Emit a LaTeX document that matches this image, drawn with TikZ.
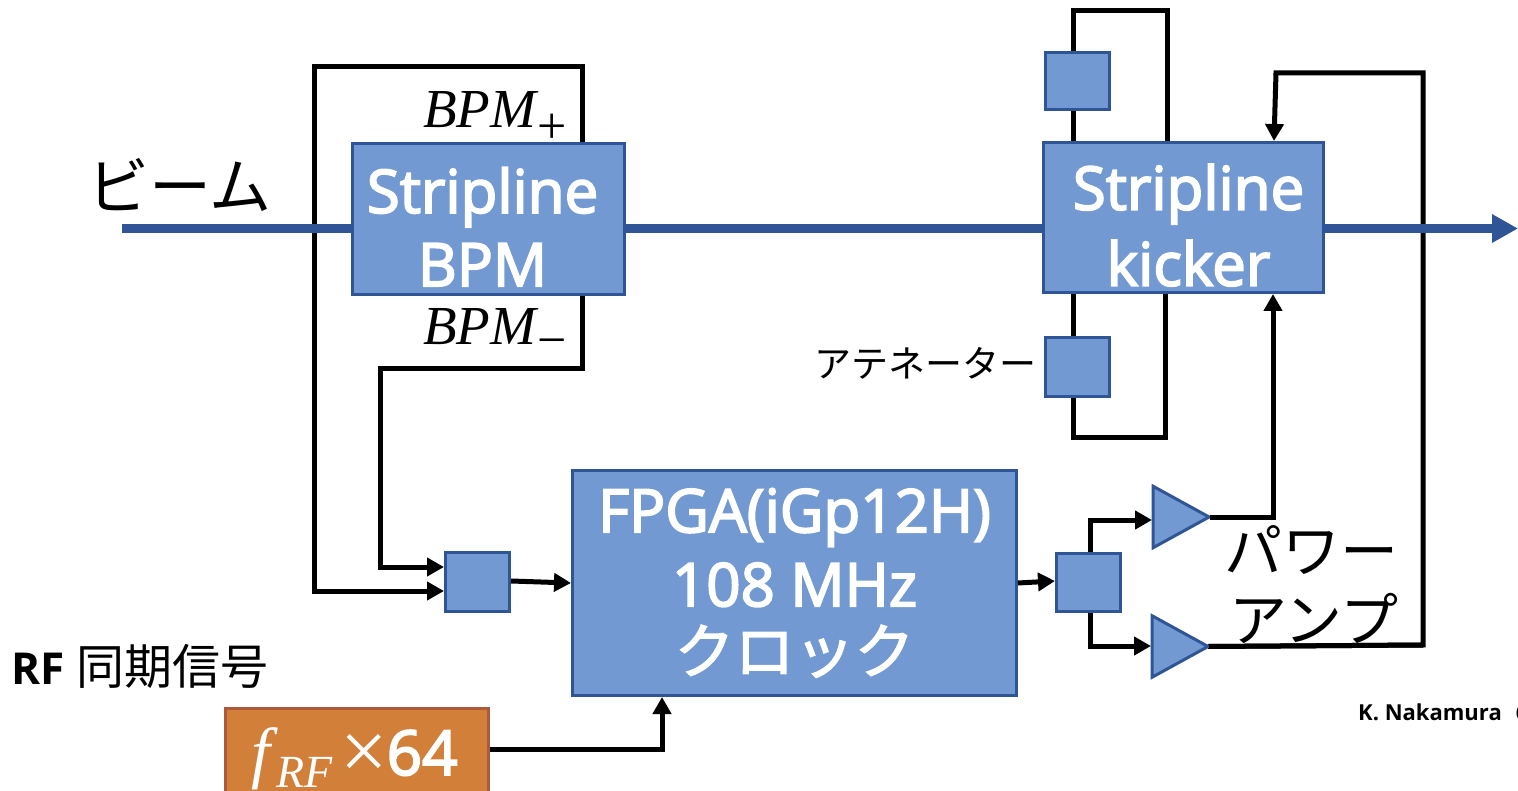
\documentclass[tikz,border=0pt]{standalone}
\usepackage{fontspec}
\setmainfont{Open Sans}
\newfontfamily\semif[FakeBold=3]{Open Sans}
\newfontfamily\cjk{Noto Sans CJK JP}
\newfontfamily\cjksemi[FakeBold=2]{Noto Sans CJK JP}
\newfontfamily\mathf{Liberation Serif}
\usetikzlibrary{shapes.geometric,arrows.meta,calc}
\newcommand{\fs}[1]{\fontsize{#1}{#1}\selectfont}
\definecolor{boxfill}{HTML}{7299D1}
\definecolor{boxline}{HTML}{2F5597}
\definecolor{orfill}{HTML}{D27F3A}
\definecolor{orline}{HTML}{AE5A3A}
\tikzset{
  bluebox/.style={draw=boxline,line width=3pt,fill=boxfill,inner sep=0pt,text=white,font=\semif,align=center},
  amp/.style={isosceles triangle,isosceles triangle stretches,draw=boxline,line width=3pt,fill=boxfill,inner sep=0pt,minimum width=61.5pt,minimum height=56pt,shape border rotate=0},
  wire/.style={black,line width=5pt,line join=miter},
  arrowwire/.style={wire,-{Triangle[length=17pt,width=18pt]}},
  beam/.style={boxline,line width=9pt,-{Triangle[length=26pt,width=27pt]}},
  lab/.style={inner sep=0pt,text=black}
}
\begin{document}
\begin{tikzpicture}[x=1pt,y=-1pt]
\useasboundingbox (0,0) rectangle (1518,791);
\clip (0,0) rectangle (1518,791);
% corner coordinates
\coordinate (bpTop) at (582,67);
\coordinate (bpLeft) at (314,67);
\coordinate (bpBot) at (582,369);
\coordinate (bpIn) at (380,369);
\coordinate (kTopL) at (1073,10.5);
\coordinate (kTopR) at (1167,10.5);
\coordinate (kBotL) at (1073,437);
\coordinate (kBotR) at (1165,437);
\coordinate (fbTR) at (1423,73);
\coordinate (fbBR) at (1423,645);
\coordinate (fbTL) at (1276,73);
\coordinate (beamStart) at (122,228.5);
\coordinate (beamEnd) at (1518,228.5);
\coordinate (rfCorner) at (662,749);
% wires behind boxes
\draw[wire] (582,143) -- (bpTop) -- (bpLeft) -- (314,593.5);
\draw[wire] (1208,646.5) -- (fbBR) -- (fbTR) -- (1273.5,73);
\draw[beam] (beamStart) -- (beamEnd);
% nodes
\node[bluebox,minimum width=272pt,minimum height=151pt] (bpm) at (488.5,219) {\fs{60}\rule{0pt}{61pt}Stripline\kern12pt\\[15pt]\fs{60}BPM\kern12pt};
\node[bluebox,minimum width=280pt,minimum height=150pt] (kick) at (1183.5,217.5) {\fs{60}\rule{0pt}{61pt}\kern10pt Stripline\\[15pt]\fs{60}\kern10pt kicker};
\node[bluebox,minimum width=64pt,minimum height=57pt] (att1) at (1077.5,81) {};
\node[bluebox,minimum width=64pt,minimum height=59pt] (att2) at (1077.5,367) {};
\node[bluebox,minimum width=64pt,minimum height=59pt] (mix) at (477.5,582) {};
\node[bluebox,minimum width=444pt,minimum height=225pt] (fpga) at (794.5,583) {\fs{60}FPGA(iGp12H)\\[15pt]\fs{60}108 MHz\\[17pt]{\cjksemi\fs{60}クロック}};
\node[bluebox,minimum width=64pt,minimum height=58pt] (split) at (1088.5,582.5) {};
\node[amp,anchor=apex] (ampA) at (1213,517) {};
\node[amp,anchor=apex] (ampB) at (1212,646.5) {};
\node[draw=orline,line width=3pt,fill=orfill,inner sep=0pt,minimum width=263pt,minimum height=100pt] (rf) at (357,758) {};
\node[inner sep=0pt,text=white,anchor=base west] (rflab) at (251,775) {\mathf\fs{68}\itshape f\kern6pt\raisebox{-12pt}{\fs{46}RF}\kern8pt\upshape\fs{84}\raisebox{-4pt}{×}\kern-1pt{\semif\fs{62}64}};
% wires between nodes
\draw[wire] (bpm.south -| bpBot) -- (bpBot) -- (bpIn) -- (380,569.5);
\draw[arrowwire] (380,567) -- (mix.west |- 0,567);
\draw[arrowwire] (314,591) -- (mix.west |- 0,591);
\draw[wire] (att1.north -| kTopL) -- (kTopL) -- (kTopR) -- (kick.north -| kTopR);
\draw[wire] (att1.south -| kTopL) -- (kick.north -| kTopL);
\draw[wire] (kick.south -| kBotL) -- (att2.north -| kBotL);
\draw[wire] (att2.south -| kBotL) -- (kBotL) -- (kBotR) -- (kick.south -| kBotR);
\draw[arrowwire] (mix.east |- 0,581) -- (fpga.west |- 0,583);
\draw[arrowwire] (fpga.east |- 0,583) -- (split.west |- 0,581);
\draw[arrowwire] (split.north -| 1090,0) |- (1152,520);
\draw[arrowwire] (split.south -| 1090,0) |- (1151,646);
\draw[arrowwire] ($(ampA.apex)+(-3,0)$) -| (kick.south -| 1273,0);
\draw[wire] ($(ampB.apex)+(-3,0)$) -- (fbBR);
\draw[arrowwire] (fbTL) -- (kick.north -| 1274,0);
\draw[arrowwire] (rf.east |- rfCorner) -- (rfCorner) -- (fpga.south -| rfCorner);
% labels
\node[lab,anchor=base west] (bp) at (423,128) {\mathf\fs{55}\itshape BPM\kern1pt\raisebox{-16pt}{\upshape\fs{52}+}};
\node[lab,anchor=base west] (bm) at (423,345) {\mathf\fs{55}\itshape BPM\kern1pt\raisebox{-13pt}{\upshape\fs{52}−}};
\node[lab,anchor=west] (beamlab) at (87,185) {\cjk\fs{62}ビーム};
\node[lab,anchor=base west] (sync) at (11,684) {\fs{44}\bfseries RF\kern12pt{\cjk\mdseries\fs{48}同期信号}};
\node[lab,anchor=east] (attlab) at (1037,363) {\cjk\fs{37}アテネーター};
\node[lab,anchor=center] (pa1) at (1311,550) {\cjk\fs{58}パワー};
\node[lab,anchor=center] (pa2) at (1314,618) {\cjk\fs{58}アンプ};
\node[lab,anchor=base west] (auth) at (1358,720) {\fs{22}\bfseries K. Nakamura\kern14pt 6};
\end{tikzpicture}
\end{document}
